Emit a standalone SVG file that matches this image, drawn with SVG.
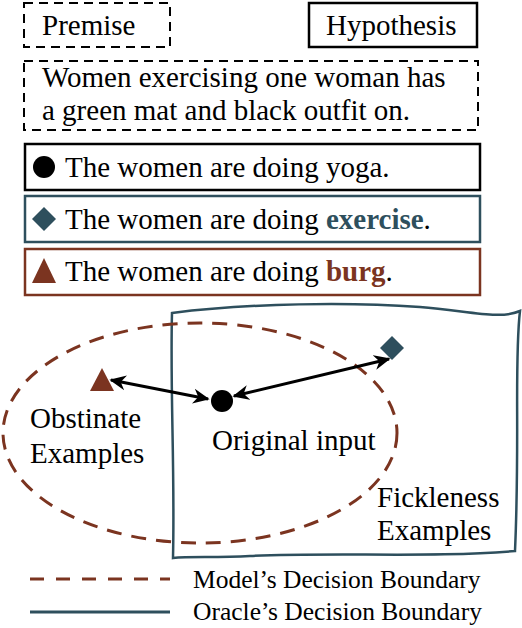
<svg xmlns="http://www.w3.org/2000/svg" width="522" height="628" viewBox="0 0 522 628">
<defs>
<style>
text{font-family:"Liberation Serif","Times New Roman",serif;fill:#000}
.t{font-size:29px}
.l{font-size:25.5px}
.dash{fill:none;stroke:#000;stroke-width:2;stroke-dasharray:9,6}
.blue{fill:#2e4f5d}
.brown{fill:#7b3420}
</style>
<marker id="ah" viewBox="0 0 10 10" refX="9" refY="5" markerWidth="5.5" markerHeight="5.5" orient="auto-start-reverse" markerUnits="strokeWidth"><path d="M0,0.5 L10,5 L0,9.5 L3,5 Z" fill="#000"/></marker>
</defs>
<rect width="522" height="628" fill="#fff"/>
<g id="premise-label"><rect class="dash" x="24" y="3" width="146" height="44"/><text class="t" x="42" y="35">Premise</text></g>
<g id="hypothesis-label"><rect x="309" y="3" width="168" height="44" fill="none" stroke="#000" stroke-width="2.5"/><text class="t" x="326" y="35">Hypothesis</text></g>
<g id="premise"><rect class="dash" x="24" y="61" width="454" height="69"/><text class="t" x="42" y="87">Women exercising one woman has</text><text class="t" x="42" y="120">a green mat and black outfit on.</text></g>
<g id="hyp1"><rect x="25" y="144" width="455" height="46" fill="none" stroke="#000" stroke-width="2.5"/><circle cx="44" cy="167" r="11" fill="#000"/><text class="t" x="65" y="177">The women are doing yoga.</text></g>
<g id="hyp2"><rect x="25" y="196" width="455" height="46" fill="none" stroke="#2e4f5d" stroke-width="2.5"/><path d="M44,207 L56,219 L44,231 L32,219 Z" class="blue"/><text class="t" x="65" y="229">The women are doing <tspan class="blue" font-weight="bold">exercise</tspan>.</text></g>
<g id="hyp3"><rect x="25" y="249" width="455" height="46" fill="none" stroke="#7b3420" stroke-width="2.5"/><path d="M44,258 L56,283 L32,283 Z" class="brown"/><text class="t" x="65" y="281">The women are doing <tspan class="brown" font-weight="bold">burg</tspan>.</text></g>
<g id="oracle-boundary"><path d="M172,313 C250,303 350,302 420,307 C470,311 500,320 520,311 C514,360 520,440 515,551 C440,558 330,552 250,556 C215,558 190,556 173,558 C175,470 170,390 172,313 Z" fill="none" stroke="#2e4f5d" stroke-width="2.5"/></g>
<g id="model-boundary"><ellipse cx="200" cy="433" rx="197" ry="110" fill="none" stroke="#7b3420" stroke-width="3" stroke-dasharray="15,10"/></g>
<g id="obstinate"><path d="M102,368 L114,391 L90,391 Z" class="brown"/><text class="t" x="30" y="428">Obstinate</text><text class="t" x="30" y="463">Examples</text></g>
<g id="original"><circle cx="222" cy="401" r="11" fill="#000"/><text class="t" x="212" y="450">Original input</text></g>
<g id="fickleness"><path d="M392,336 L404,348 L392,360 L380,348 Z" class="blue"/><text class="t" x="377" y="507">Fickleness</text><text class="t" x="377" y="540">Examples</text></g>
<g id="connectors" stroke="#000" stroke-width="3" fill="none">
<line x1="111" y1="380" x2="208" y2="399" marker-start="url(#ah)" marker-end="url(#ah)"/>
<line x1="234" y1="396" x2="389" y2="359" marker-start="url(#ah)" marker-end="url(#ah)"/>
</g>
<g id="legend">
<line x1="30" y1="579" x2="170" y2="579" stroke="#7b3420" stroke-width="3" stroke-dasharray="14,12"/>
<line x1="30" y1="612" x2="170" y2="612" stroke="#2e4f5d" stroke-width="3"/>
<text class="l" x="193" y="588">Model’s Decision Boundary</text>
<text class="l" x="193" y="620">Oracle’s Decision Boundary</text>
</g>
</svg>
